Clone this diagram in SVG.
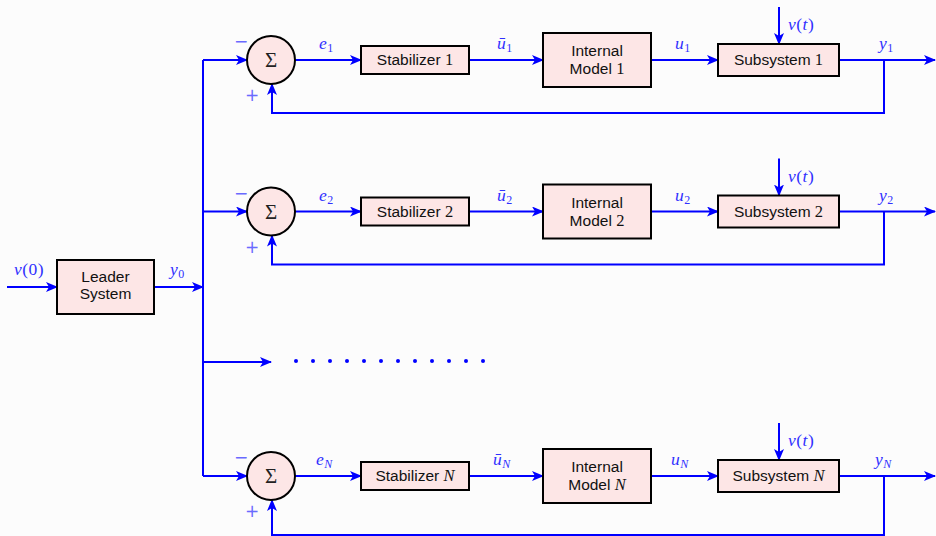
<svg xmlns="http://www.w3.org/2000/svg" width="936" height="536" viewBox="0 0 936 536">
  <defs>
    <marker id="arr" viewBox="0 0 12 10" markerWidth="12" markerHeight="10" refX="11" refY="5" orient="auto" markerUnits="userSpaceOnUse">
      <path d="M0,0 L12,5 L0,10 L3,5 z" fill="#0000ff"/>
    </marker>
    <style>
      .bg { fill: #fcfcfc; }
      .box { fill: #fde6e6; stroke: #000; stroke-width: 2; }
      .wire { fill: none; stroke: #0000ff; stroke-width: 2; }
      .wa { fill: none; stroke: #0000ff; stroke-width: 2; marker-end: url(#arr); }
      .bt { font-family: "Liberation Sans", Arial, sans-serif; font-size: 15.5px; fill: #111; text-anchor: middle; }
      .num { font-family: "Liberation Serif", "Times New Roman", serif; font-size: 16.5px; }
      .it { font-family: "Liberation Serif", "Times New Roman", serif; font-style: italic; font-size: 16.5px; }
      .ml { font-family: "Liberation Serif", "Times New Roman", serif; font-style: italic; font-size: 17.5px; fill: #3030ff; letter-spacing: 0.5px; }
      .sub { font-size: 12px; font-style: normal; }
      .subi { font-size: 12px; font-style: italic; }
      .up { font-style: normal; }
      .sg { font-family: "DejaVu Sans", "Liberation Sans", sans-serif; font-size: 17px; fill: #6a6aff; text-anchor: middle; }
      .sig { font-family: "Liberation Serif", "Times New Roman", serif; font-size: 21px; fill: #222; text-anchor: middle; }
      .dot { fill: #0000ff; }
    </style>
  </defs>

  <rect class="bg" x="0" y="0" width="936" height="536"/>

  <!-- connectors -->
  <g id="connectors">
    <!-- leader input and output -->
    <path class="wa" d="M7,287 H57"/>
    <path class="wa" d="M154,287 H203"/>
    <!-- distribution bus -->
    <path class="wire" d="M203,60 V476"/>
    <path class="wa" d="M203,362 H271"/>

    <!-- loop 1 -->
    <path class="wa" d="M203,60 H247"/>
    <path class="wa" d="M295,60 H361"/>
    <path class="wa" d="M469,60 H543"/>
    <path class="wa" d="M651,60 H718"/>
    <path class="wa" d="M839,60 H935"/>
    <path class="wa" d="M779,7 V44"/>
    <path class="wa" d="M884,60 V113 H272 V84"/>

    <!-- loop 2 -->
    <path class="wa" d="M203,211.5 H247"/>
    <path class="wa" d="M295,211.5 H361"/>
    <path class="wa" d="M469,211.5 H543"/>
    <path class="wa" d="M651,211.5 H718"/>
    <path class="wa" d="M839,211.5 H935"/>
    <path class="wa" d="M779,158.5 V195.5"/>
    <path class="wa" d="M884,211.5 V264.5 H272 V235.5"/>

    <!-- loop N -->
    <path class="wa" d="M203,476 H247"/>
    <path class="wa" d="M295,476 H361"/>
    <path class="wa" d="M469,476 H543"/>
    <path class="wa" d="M651,476 H718"/>
    <path class="wa" d="M839,476 H935"/>
    <path class="wa" d="M779,423 V460"/>
    <path class="wa" d="M884,476 V535 H272 V500"/>
  </g>

  <!-- ellipsis for the omitted loops -->
  <g id="ellipsis">
    <circle class="dot" cx="296" cy="361" r="2"/>
    <circle class="dot" cx="313" cy="361" r="2"/>
    <circle class="dot" cx="330" cy="361" r="2"/>
    <circle class="dot" cx="347" cy="361" r="2"/>
    <circle class="dot" cx="364" cy="361" r="2"/>
    <circle class="dot" cx="381" cy="361" r="2"/>
    <circle class="dot" cx="398" cy="361" r="2"/>
    <circle class="dot" cx="415" cy="361" r="2"/>
    <circle class="dot" cx="432" cy="361" r="2"/>
    <circle class="dot" cx="449" cy="361" r="2"/>
    <circle class="dot" cx="466" cy="361" r="2"/>
    <circle class="dot" cx="483" cy="361" r="2"/>
  </g>

  <!-- leader -->
  <g id="leader">
    <rect class="box" x="57" y="260" width="97" height="54"/>
    <text class="bt" x="105.5" y="282">Leader</text>
    <text class="bt" x="105.5" y="299">System</text>
  </g>
  <text class="ml" x="14" y="275">v<tspan class="up">(0)</tspan></text>
  <text class="ml" x="170" y="275">y<tspan class="sub" dy="3">0</tspan></text>

  <!-- loop 1 nodes -->
  <g id="sum1">
    <circle class="box" cx="271" cy="60" r="24"/>
    <text class="sig" x="271" y="67">Σ</text>
  </g>
  <g id="stab1">
    <rect class="box" x="361" y="46" width="108" height="28"/>
    <text class="bt" x="415" y="65">Stabilizer <tspan class="num">1</tspan></text>
  </g>
  <g id="im1">
    <rect class="box" x="543" y="33" width="108" height="54"/>
    <text class="bt" x="597" y="56">Internal</text>
    <text class="bt" x="597" y="74">Model <tspan class="num">1</tspan></text>
  </g>
  <g id="sub1">
    <rect class="box" x="718" y="44" width="121" height="32"/>
    <text class="bt" x="778.5" y="65">Subsystem <tspan class="num">1</tspan></text>
  </g>
  <g id="labels1">
    <text class="sg" x="241" y="47">−</text>
    <text class="sg" x="252" y="101">+</text>
    <text class="ml" x="319" y="49">e<tspan class="sub" dy="3">1</tspan></text>
    <text class="ml" x="497" y="49">ū<tspan class="sub" dy="3">1</tspan></text>
    <text class="ml" x="675" y="49">u<tspan class="sub" dy="3">1</tspan></text>
    <text class="ml" x="879" y="49">y<tspan class="sub" dy="3">1</tspan></text>
    <text class="ml" x="788" y="30">v<tspan class="up">(</tspan>t<tspan class="up">)</tspan></text>
  </g>

  <!-- loop 2 nodes -->
  <g id="sum2">
    <circle class="box" cx="271" cy="211.5" r="24"/>
    <text class="sig" x="271" y="218.5">Σ</text>
  </g>
  <g id="stab2">
    <rect class="box" x="361" y="197.5" width="108" height="28"/>
    <text class="bt" x="415" y="216.5">Stabilizer <tspan class="num">2</tspan></text>
  </g>
  <g id="im2">
    <rect class="box" x="543" y="184.5" width="108" height="54"/>
    <text class="bt" x="597" y="207.5">Internal</text>
    <text class="bt" x="597" y="225.5">Model <tspan class="num">2</tspan></text>
  </g>
  <g id="sub2">
    <rect class="box" x="718" y="195.5" width="121" height="32"/>
    <text class="bt" x="778.5" y="216.5">Subsystem <tspan class="num">2</tspan></text>
  </g>
  <g id="labels2">
    <text class="sg" x="241" y="198.5">−</text>
    <text class="sg" x="252" y="252.5">+</text>
    <text class="ml" x="319" y="200.5">e<tspan class="sub" dy="3">2</tspan></text>
    <text class="ml" x="497" y="200.5">ū<tspan class="sub" dy="3">2</tspan></text>
    <text class="ml" x="675" y="200.5">u<tspan class="sub" dy="3">2</tspan></text>
    <text class="ml" x="879" y="200.5">y<tspan class="sub" dy="3">2</tspan></text>
    <text class="ml" x="788" y="181.5">v<tspan class="up">(</tspan>t<tspan class="up">)</tspan></text>
  </g>

  <!-- loop N nodes -->
  <g id="sumN">
    <circle class="box" cx="271" cy="476" r="24"/>
    <text class="sig" x="271" y="483">Σ</text>
  </g>
  <g id="stabN">
    <rect class="box" x="361" y="462" width="108" height="28"/>
    <text class="bt" x="415" y="481">Stabilizer <tspan class="it">N</tspan></text>
  </g>
  <g id="imN">
    <rect class="box" x="543" y="449" width="108" height="54"/>
    <text class="bt" x="597" y="472">Internal</text>
    <text class="bt" x="597" y="490">Model <tspan class="it">N</tspan></text>
  </g>
  <g id="subN">
    <rect class="box" x="718" y="460" width="121" height="32"/>
    <text class="bt" x="778.5" y="481">Subsystem <tspan class="it">N</tspan></text>
  </g>
  <g id="labelsN">
    <text class="sg" x="241" y="463">−</text>
    <text class="sg" x="252" y="517">+</text>
    <text class="ml" x="316" y="465">e<tspan class="subi" dy="3">N</tspan></text>
    <text class="ml" x="493" y="465">ū<tspan class="subi" dy="3">N</tspan></text>
    <text class="ml" x="671" y="465">u<tspan class="subi" dy="3">N</tspan></text>
    <text class="ml" x="875" y="465">y<tspan class="subi" dy="3">N</tspan></text>
    <text class="ml" x="788" y="446">v<tspan class="up">(</tspan>t<tspan class="up">)</tspan></text>
  </g>
</svg>
